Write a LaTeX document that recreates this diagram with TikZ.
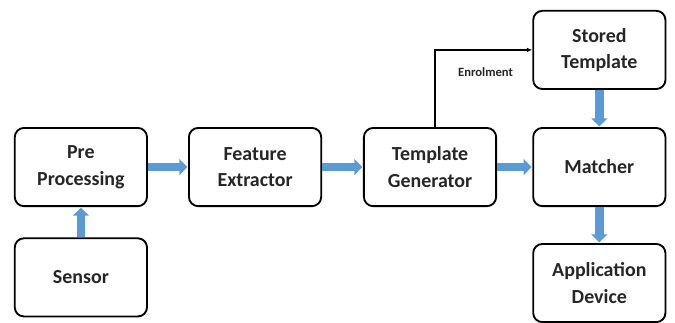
\documentclass[tikz,border=0pt]{standalone}
\usepackage{fontspec}
\setmainfont{Carlito}
\usepackage{xcolor}
\usetikzlibrary{positioning, arrows.meta}
\definecolor{flowblue}{HTML}{5B9BD5}
\definecolor{boxtext}{HTML}{262626}

\begin{document}
\begin{tikzpicture}[node distance=1.05cm,
    block/.style={draw, line width=1.4pt, rounded corners=7pt, minimum width=3.5cm, minimum height=2.07cm,
      align=center, text=boxtext, font=\fontsize{15}{20}\selectfont\bfseries},
    flow/.style={-{Triangle[length=6pt, width=12pt]}, line width=6.5pt, color=flowblue, shorten >=0.5pt}]
  \useasboundingbox (0,0) rectangle (17.86,-8.546);
  \node[block] (pre) at (2.14,-4.42) {Pre\\Processing};
  \node[block, below=0.8cm of pre] (sensor) {Sensor};
  \node[block, right=1.06cm of pre] (feat) {Feature\\Extractor};
  \node[block, right=1.08cm of feat] (tgen) {Template\\Generator};
  \node[block, right=0.93cm of tgen] (match) {Matcher};
  \node[block, above=0.98cm of match] (stored) {Stored\\Template};
  \node[block, below=0.95cm of match] (app) {Application\\Device};
  \draw[flow] (sensor) -- (pre);
  \draw[flow] (pre) -- (feat);
  \draw[flow] (feat) -- (tgen);
  \draw[flow] (tgen) -- (match);
  \draw[flow] (stored) -- (match);
  \draw[flow] (match) -- (app);
  % enrolment path up to the stored template
  \draw[-{Latex[length=4pt, width=3.5pt]}, line width=0.9pt] ([xshift=0.13cm]tgen.north) |- (stored.west)
    node[pos=0.76, below=0.33cm, font=\fontsize{9.5}{11}\selectfont\bfseries, text=boxtext] {Enrolment};
\end{tikzpicture}
\end{document}
